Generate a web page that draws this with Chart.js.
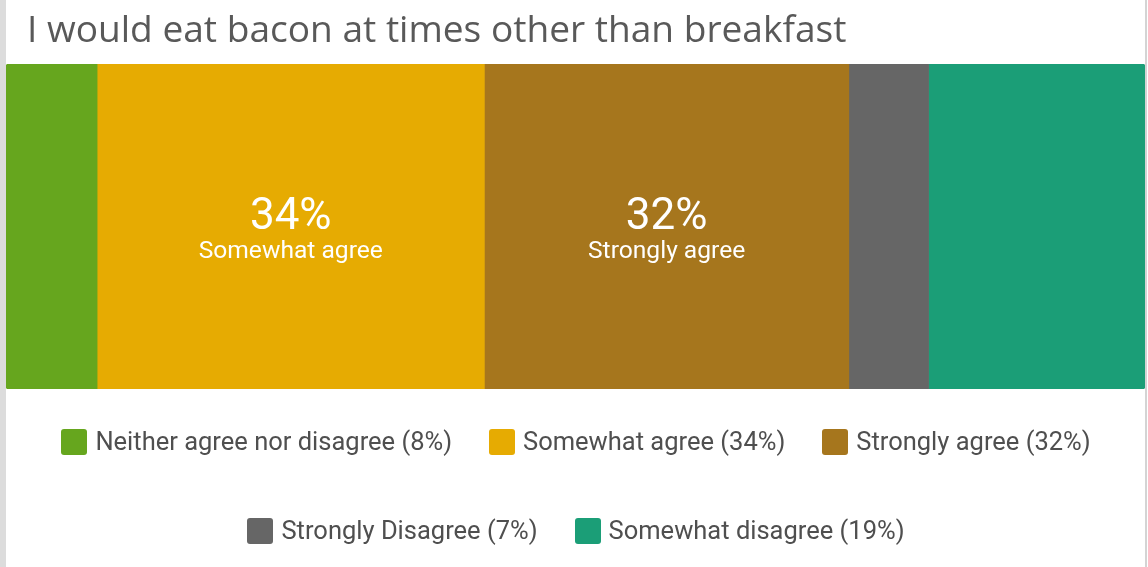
<!DOCTYPE html>
<html>
<head>
<meta charset="utf-8">
<script src="https://cdn.jsdelivr.net/npm/chart.js@4"></script>
<style>
  html, body { margin: 0; padding: 0; background: #ffffff; }
  #wrap { position: relative; width: 1148px; height: 567px; overflow: hidden; background: #ffffff; }
  #leftEdge { position: absolute; left: 0; top: 0; width: 6px; height: 567px; background: #dcdcdc; }
  #rightEdge { position: absolute; left: 1145px; top: 0; width: 2px; height: 567px; background: #d4d4d4; }
  #chartBox { position: absolute; left: 0; top: 0; width: 1148px; height: 567px; }
  #title { position: absolute; left: 27px; top: 2px; font-family: "Open Sans", sans-serif; font-size: 37.1px; color: #595959; white-space: nowrap; line-height: 52px; }
  #legend { position: absolute; left: 26px; top: 429px; width: 1100px; display: flex; flex-wrap: wrap; justify-content: center; column-gap: 37px; row-gap: 63px; }
  .item { display: flex; align-items: center; height: 26px; }
  .sw { width: 26px; height: 26px; border-radius: 3px; margin-right: 8px; flex: none; }
  .lt { font-family: Roboto, sans-serif; font-size: 25.5px; color: #4f4f4f; white-space: nowrap; position: relative; top: -1.5px; }
</style>
</head>
<body>
<div id="wrap">
  <div id="chartBox"><canvas id="c"></canvas></div>
  <div id="leftEdge"></div>
  <div id="rightEdge"></div>
  <div id="title"></div>
  <div id="legend"></div>
</div>
<script>
const chartTitle = 'I would eat bacon at times other than breakfast';
const categories = ['Bacon'];
const seriesNames = ['Neither agree nor disagree', 'Somewhat agree', 'Strongly agree', 'Strongly Disagree', 'Somewhat disagree'];
const seriesValues = [8, 34, 32, 7, 19];
const seriesColors = ['#66a61e', '#e6ab02', '#a6761d', '#666666', '#1b9e77'];
const labelThreshold = 20;

document.getElementById('title').textContent = chartTitle;

const legendEl = document.getElementById('legend');
seriesNames.forEach((name, i) => {
  const item = document.createElement('div');
  item.className = 'item';
  const sw = document.createElement('span');
  sw.className = 'sw';
  sw.style.background = seriesColors[i];
  const t = document.createElement('span');
  t.className = 'lt';
  t.textContent = name + ' (' + seriesValues[i] + '%)';
  item.appendChild(sw);
  item.appendChild(t);
  legendEl.appendChild(item);
});

const last = seriesNames.length - 1;
const datasets = seriesNames.map((name, i) => ({
  label: name,
  data: [seriesValues[i]],
  backgroundColor: seriesColors[i],
  borderWidth: 0,
  borderSkipped: false,
  borderRadius: i === 0 ? {topLeft: 3, bottomLeft: 3, topRight: 0, bottomRight: 0}
              : (i === last ? {topLeft: 0, bottomLeft: 0, topRight: 3, bottomRight: 3} : 0),
  barPercentage: 1,
  categoryPercentage: 1
}));

const segLabels = {
  id: 'segLabels',
  afterDatasetsDraw(chart) {
    const ctx = chart.ctx;
    chart.data.datasets.forEach((ds, i) => {
      const v = ds.data[0];
      if (v < labelThreshold) return;
      const el = chart.getDatasetMeta(i).data[0];
      const cx = (el.x + el.base) / 2;
      const cy = el.y;
      ctx.save();
      ctx.fillStyle = '#ffffff';
      ctx.textAlign = 'center';
      ctx.textBaseline = 'alphabetic';
      ctx.font = '400 44px Roboto';
      ctx.fillText(v + '%', cx, cy + 2);
      ctx.font = '400 24.6px Roboto';
      ctx.fillText(ds.label, cx, cy + 31);
      ctx.restore();
    });
  }
};

new Chart(document.getElementById('c'), {
  type: 'bar',
  data: { labels: categories, datasets },
  options: {
    indexAxis: 'y',
    responsive: true,
    maintainAspectRatio: false,
    animation: false,
    layout: { padding: { left: 6, right: 3, top: 64, bottom: 178 } },
    scales: {
      x: { display: false, stacked: true, min: 0, max: 100 },
      y: { display: false, stacked: true }
    },
    plugins: {
      legend: { display: false },
      title: { display: false },
      tooltip: { enabled: false }
    }
  },
  plugins: [segLabels]
});
</script>
</body>
</html>
